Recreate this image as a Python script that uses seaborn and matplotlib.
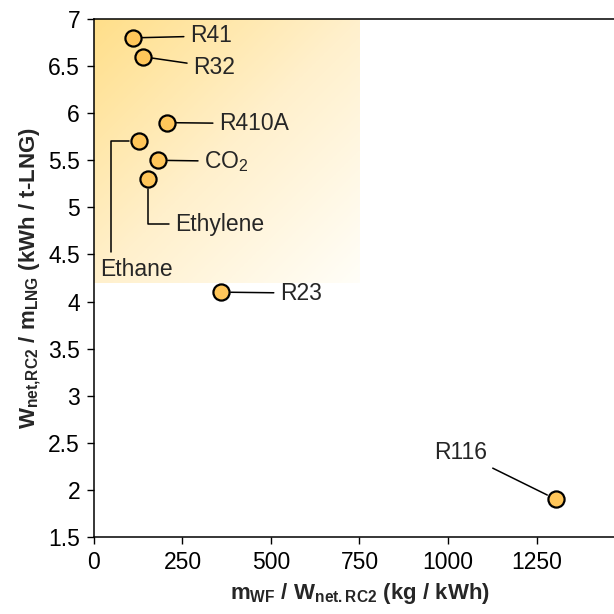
import numpy as np
import matplotlib
matplotlib.use("Agg")
import matplotlib.pyplot as plt
import seaborn as sns
import pandas as pd
from matplotlib.colors import LinearSegmentedColormap

sns.set_theme(style="ticks")
plt.rcParams['font.family'] = ['Liberation Sans', 'DejaVu Sans']
plt.rcParams['mathtext.fontset'] = 'custom'
plt.rcParams['mathtext.rm'] = 'Liberation Sans'
plt.rcParams['mathtext.bf'] = 'Liberation Sans:bold'
plt.rcParams['mathtext.it'] = 'Liberation Sans:italic'

# data
fluids = ['R41', 'R32', 'R410A', 'Ethane', 'CO$_2$', 'Ethylene', 'R23', 'R116']
m_wf = [110, 138, 205, 127, 181, 153, 359, 1305]
w_net = [6.8, 6.6, 5.9, 5.7, 5.5, 5.3, 4.1, 1.9]
x_ticks = [0, 250, 500, 750, 1000, 1250]
y_ticks = [1.5, 2, 2.5, 3, 3.5, 4, 4.5, 5, 5.5, 6, 6.5, 7]

df = pd.DataFrame({'fluid': fluids, 'm_wf': m_wf, 'w_net': w_net})

fig = plt.figure(figsize=(6.14, 6.14), dpi=100)
ax = fig.add_axes([0.153, 0.1254, 0.865, 0.8436])

# shaded "good" region with diagonal gradient
grad_cmap = LinearSegmentedColormap.from_list('g', ['#FFDF8A', '#FFF0CC', '#FFFEF8'])
gx, gy = np.meshgrid(np.linspace(0, 1, 200), np.linspace(0, 1, 200))
ax.imshow((gx + gy) / 2, cmap=grad_cmap, extent=[0, 750, 4.2, 7], origin='upper',
          aspect='auto', zorder=0, vmin=0, vmax=1)

sns.scatterplot(data=df, x='m_wf', y='w_net', ax=ax, s=135, color='#FFC65A',
                edgecolor='black', linewidth=1.6, zorder=5, legend=False)

fs = 16.5
line = dict(arrowstyle='-', color='black', lw=1.1, shrinkA=2, shrinkB=7)

def lab(i, tx, ty, ha='left', cs=None):
    props = dict(line)
    if cs:
        props['connectionstyle'] = cs
    ax.annotate(fluids[i], xy=(m_wf[i], w_net[i]), xytext=(tx, ty), ha=ha, va='center',
                fontsize=fs, arrowprops=props, zorder=4)

lab(0, 271, 6.82)
lab(1, 280, 6.49)
lab(2, 353, 5.89)
lab(4, 311, 5.49)
lab(5, 229, 4.82, cs='angle,angleA=0,angleB=90,rad=0')
lab(6, 525, 4.09)
lab(7, 1110, 2.40, ha='right')

# Ethane: leader goes up, then right to the marker
ax.annotate('', xy=(m_wf[3], w_net[3]), xytext=(48, 4.53),
            arrowprops=dict(arrowstyle='-', color='black', lw=1.1, shrinkA=0, shrinkB=7,
                            connectionstyle='angle,angleA=90,angleB=0,rad=0'), zorder=4)
ax.text(17, 4.34, fluids[3], ha='left', va='center', fontsize=fs, zorder=4)

ax.set_xlim(0, 1500)
ax.set_ylim(1.5, 7)
ax.set_xticks(x_ticks)
ax.set_yticks(y_ticks)
ax.set_yticklabels([f'{v:g}' for v in y_ticks])
ax.tick_params(direction='out', length=5, width=1, labelsize=fs, colors='black', pad=5)
for sp in ax.spines.values():
    sp.set_color('black')
    sp.set_linewidth(1.1)

ax.set_xlabel(r'$\mathbf{m}_{\mathbf{WF}}$ / $\mathbf{W}_{\mathbf{net{.}RC2}}$ (kg / kWh)',
              fontsize=16, fontweight='bold', labelpad=5)
ax.set_ylabel(r'$\mathbf{W}_{\mathbf{net{,}RC2}}$ / $\mathbf{m}_{\mathbf{LNG}}$ (kWh / t-LNG)',
              fontsize=16, fontweight='bold', labelpad=4)
ax.set_title('(c)', fontsize=16, fontweight='bold', pad=17)

fig.savefig('out.png', dpi=100)
